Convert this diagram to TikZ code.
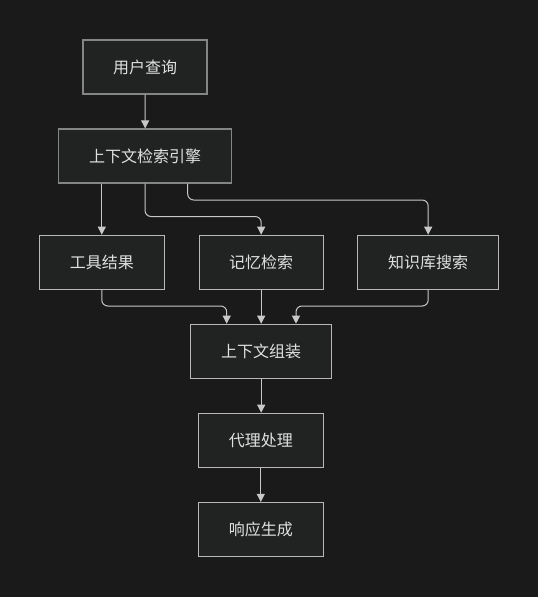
\documentclass[tikz,border=0pt]{standalone}
\usepackage{fontspec}
\setmainfont{Noto Sans CJK SC}
\usetikzlibrary{arrows.meta}
\definecolor{bgc}{HTML}{1A1A1A}
\definecolor{boxfill}{HTML}{212323}
\definecolor{boxdark}{HTML}{858585}
\definecolor{boxlight}{HTML}{B8B8B8}
\definecolor{txt}{HTML}{E0E0E0}
\definecolor{edge}{HTML}{C8C8C8}
\tikzset{
  box/.style={draw=boxlight, fill=boxfill, line width=1.2pt, text=txt, font=\fontsize{16}{19}\selectfont, inner sep=0pt},
  topbox/.style={box, draw=boxdark},
  conn/.style={draw=edge, line width=1pt, rounded corners=6pt, -{Triangle[length=8pt,width=8pt]}}
}
\begin{document}
\begin{tikzpicture}[x=1pt,y=-1pt]
\fill[bgc] (0,0) rectangle (538,597);
\useasboundingbox (0,0) rectangle (538,597);
\node[topbox, minimum width=124pt, minimum height=54pt] (q) at (145,67) {用户查询};
\node[topbox, minimum width=173pt, minimum height=54pt] (e) at (145.2,156) {上下文检索引擎};
\node[box, minimum width=125pt, minimum height=54pt] (t) at (101.8,262.3) {工具结果};
\node[box, minimum width=124pt, minimum height=54pt] (m) at (261.2,262.3) {记忆检索};
\node[box, minimum width=141pt, minimum height=54pt] (k) at (428.2,262.3) {知识库搜索};
\node[box, minimum width=141pt, minimum height=54pt] (a) at (261.2,351.3) {上下文组装};
\node[box, minimum width=125pt, minimum height=54pt] (p) at (260.8,440.3) {代理处理};
\node[box, minimum width=125pt, minimum height=54pt] (r) at (260.8,529.5) {响应生成};

\draw[conn] (q.south) -- (e.north);
\draw[conn] (e.south -| t.north) -- (t.north);
\draw[conn] (e.south) -- (145,216.5) -- (261.2,216.5) -- (m.north);
\draw[conn] (e.south -| 187.7,0) -- (187.7,200) -- (428.2,200) -- (k.north);
\draw[conn] (t.south) -- (101.8,306) -- (226.7,306) -- (a.north -| 226.7,0);
\draw[conn] (m.south) -- (a.north);
\draw[conn] (k.south) -- (428.2,306) -- (296,306) -- (a.north -| 296,0);
\draw[conn] (a.south) -- (a.south |- p.north);
\draw[conn] (p.south) -- (r.north);
\end{tikzpicture}
\end{document}
